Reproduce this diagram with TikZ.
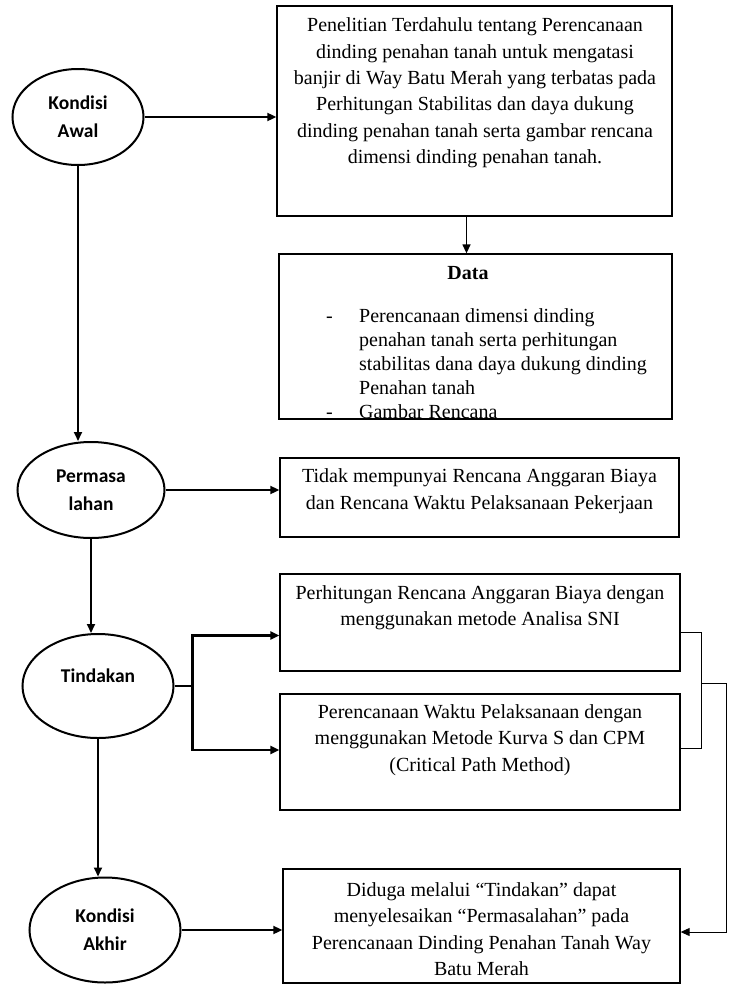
\documentclass[tikz,border=0pt]{standalone}
\usepackage{fontspec}
\setmainfont{Liberation Serif}
\newfontfamily\calfont{Carlito}
\usetikzlibrary{shapes.geometric,arrows.meta}

\begin{document}
\begin{tikzpicture}[x=1pt,y=-1pt,
  stage/.style={draw=black,line width=2pt,ellipse,inner sep=0pt,align=center,
    font=\calfont\bfseries\fontsize{19.5}{28}\selectfont},
  box/.style={draw=black,line width=1.3pt,rectangle,inner sep=0pt},
  boxtext/.style={align=center,inner sep=0pt,font=\fontsize{20}{26.4}\selectfont},
  flow/.style={draw=black,line width=1.8pt,-{Triangle[length=9pt,width=8pt]}},
  brace/.style={draw=black,line width=0.9pt}]
\useasboundingbox (0,0) rectangle (733,985);
% stages:
\node[stage,minimum width=131pt,minimum height=96pt] (awal) at (78,117) {Kondisi\\Awal};
\node[stage,minimum width=147pt,minimum height=96pt] (masalah) at (91,490) {Permasa\\lahan};
\node[stage,minimum width=151pt,minimum height=104pt] (tindakan) at (98,686) {Tindakan\\[-8pt]\mbox{}};
\node[stage,minimum width=151pt,minimum height=105pt] (akhir) at (105,930) {Kondisi\\Akhir};
% boxes:
\node[box,minimum width=395pt,minimum height=210pt] (awalbox) at (474.5,111) {};
\node[boxtext] (awaltext) at (475,93) {Penelitian Terdahulu tentang Perencanaan\\
  dinding penahan tanah untuk mengatasi\\
  banjir di Way Batu Merah yang terbatas pada\\
  Perhitungan Stabilitas dan daya dukung\\
  dinding penahan tanah serta gambar rencana\\
  dimensi dinding penahan tanah.};
\begin{scope}
\clip (279,254) rectangle (672,418);
\node[anchor=base west,inner sep=0pt,font=\fontsize{20}{24}\selectfont] (datalist) at (326,322)
  {\begin{tabular}[t]{@{}l@{\hspace{26.3pt}}l@{}}
   - & Perencanaan dimensi dinding\\
     & penahan tanah serta perhitungan\\
     & stabilitas dana daya dukung dinding\\
     & Penahan tanah\\
   - & Gambar Rencana
   \end{tabular}};
\end{scope}
\node[box,minimum width=393pt,minimum height=165pt] (databox) at (475.5,336.5) {};
\node[inner sep=0pt,font=\bfseries\fontsize{20}{24}\selectfont] (datahead) at (468,273) {Data};
\node[box,minimum width=399pt,minimum height=79pt] (masalahbox) at (479.5,497.5) {};
\node[boxtext] (masalahtext) at (479.5,491) {Tidak mempunyai Rencana Anggaran Biaya\\
  dan Rencana Waktu Pelaksanaan Pekerjaan};
\node[box,minimum width=400pt,minimum height=97pt] (rabbox) at (480,622.5) {};
\node[boxtext] (rabtext) at (480,608) {Perhitungan Rencana Anggaran Biaya dengan\\
  menggunakan metode Analisa SNI};
\node[box,minimum width=400pt,minimum height=116pt] (waktubox) at (480,752) {};
\node[boxtext] (waktutext) at (480,740) {Perencanaan Waktu Pelaksanaan dengan\\
  menggunakan Metode Kurva S dan CPM\\
  (Critical Path Method)};
\node[box,minimum width=397pt,minimum height=114pt] (hasilbox) at (481.5,926) {};
\node[boxtext] (hasiltext) at (481.5,929) {Diduga melalui “Tindakan” dapat\\
  menyelesaikan “Permasalahan” pada\\
  Perencanaan Dinding Penahan Tanah Way\\
  Batu Merah};
% connectors:
\draw[flow] (awal.east) -- (awal.east -| awalbox.west);
\draw[flow,line width=1.3pt] ([xshift=-8pt]awalbox.south) -- ([xshift=-8pt]awalbox.south |- databox.north);
\draw[flow] (awal.south) -- (awal.south |- masalah.north);
\draw[flow] (masalah.east) -- (masalah.east -| masalahbox.west);
\draw[flow] (masalah.south) -- (masalah.south |- tindakan.north);
\coordinate (split) at ([xshift=18pt]tindakan.east);
\draw[flow,-,line width=2.2pt] (tindakan.east) -- (split);
\draw[flow,line width=2.2pt] (split) |- ([yshift=-13pt]rabbox.west);
\draw[flow,line width=2.2pt] (split) |- ([yshift=2pt]waktubox.west);
\draw[flow] (tindakan.south) -- (tindakan.south |- akhir.north);
\draw[flow] (akhir.east) -- (akhir.east -| hasilbox.west);
% bracket to the result:
\coordinate (brtop) at ([yshift=-10pt]rabbox.east);
\coordinate (brbot) at ([yshift=4pt]waktubox.east);
\draw[brace] (brtop) -- ++(21,0) |- (brbot);
\coordinate (brmid) at (701,683);
\draw[brace,-{Triangle[length=9pt,width=8pt]}] (brmid) -- ++(25,0) |- ([yshift=-6pt]hasilbox.east);
\end{tikzpicture}
\end{document}
